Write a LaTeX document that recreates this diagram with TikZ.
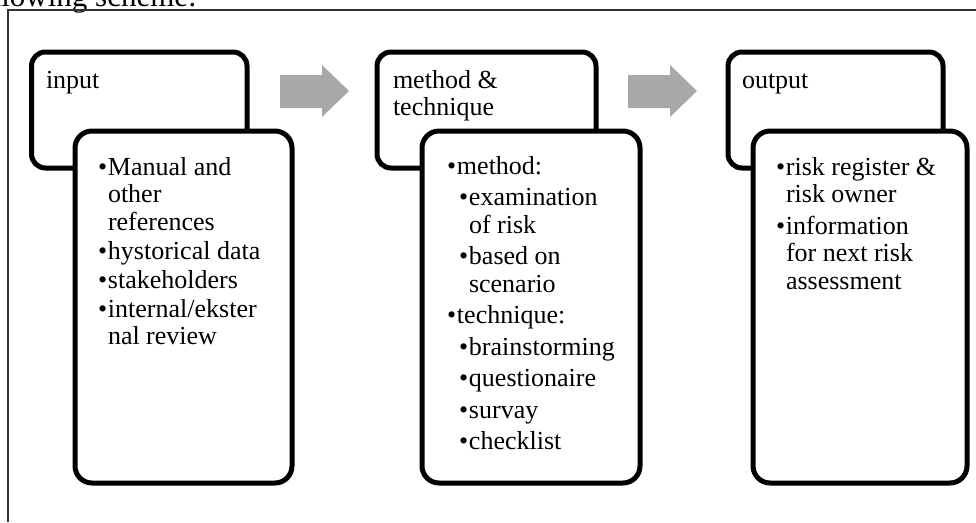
\documentclass[tikz,border=0pt]{standalone}
\usepackage{fontspec}
\setmainfont{Liberation Serif}
\definecolor{arrowgray}{RGB}{168,168,168}
\definecolor{framegray}{RGB}{50,50,50}
\newcommand{\bul}{\makebox[10pt][l]{•}}
\newcommand{\ind}{\hspace*{10pt}}
\newcommand{\subind}{\hspace*{12pt}}
\begin{document}
\begin{tikzpicture}[x=1pt,y=-1pt,
  backbox/.style={draw=black, line width=5pt, fill=white, rounded corners=14pt,
    outer sep=0pt, inner sep=0pt, anchor=north west},
  frontbox/.style={draw=black, line width=5pt, fill=white, rounded corners=17pt,
    outer sep=0pt, inner sep=0pt, anchor=north west},
  blockarrow/.style={fill=arrowgray},
  boxtext/.style={anchor=base west, inner sep=0pt, outer sep=0pt,
    font=\fontsize{26}{27.5}\selectfont},
  framestyle/.style={draw=framegray, line width=1.2pt}
]
\useasboundingbox (0,0) rectangle (976,522);
\fill[white] (0,0) rectangle (976,522);

% cropped caption of the page above the figure
\begin{scope}
  \clip (0,0) rectangle (976,522);
  \node[anchor=base east, inner sep=0pt, font=\fontsize{31}{31}\selectfont] (caption) at (197,6) {following scheme:};
\end{scope}

% frame
\draw[framestyle] (8,522) -- (8,10) -- (976,10);

% back boxes
\node[backbox, minimum width=215.5pt, minimum height=116pt] (in)  at (31.5,52) {};
\node[backbox, minimum width=219pt, minimum height=116pt]   (met) at (377,52) {};
\node[backbox, minimum width=215pt, minimum height=116pt]   (out) at (728,52) {};

% front boxes
\node[frontbox, minimum width=217pt, minimum height=352pt] (inl)  at (75,131) {};
\node[frontbox, minimum width=218pt, minimum height=352pt] (metl) at (422,131) {};
\node[frontbox, minimum width=214pt, minimum height=352pt] (outl) at (753,131) {};

% block arrows
\fill[blockarrow] (280,75) -- (322,75) -- (322,65) -- (349,91) -- (322,117) -- (322,108) -- (280,108) -- cycle;
\fill[blockarrow] (628,75) -- (670,75) -- (670,65) -- (697,91) -- (670,117) -- (670,108) -- (628,108) -- cycle;

% headers
\node[boxtext] (inh) at (46,88) {input};
\node[boxtext] (meth) at (393,88) {\begin{tabular}[t]{@{}l@{}}method \&\\ technique\end{tabular}};
\node[boxtext] (outh) at (742,88) {output};

% lists
\node[boxtext] (inlist) at (98,175) {\begin{tabular}[t]{@{}l@{}}
\bul Manual and\\ \ind other\\ \ind references\\[1.5pt]
\bul hystorical data\\[1.5pt]
\bul stakeholders\\[1.5pt]
\bul internal/ekster\\ \ind nal review
\end{tabular}};

\node[boxtext] (metlist) at (447,174) {\begin{tabular}[t]{@{}l@{}}
\bul method:\\[4pt]
\subind\bul examination\\ \subind\ind of risk\\[4pt]
\subind\bul based on\\ \subind\ind scenario\\[4pt]
\bul technique:\\[4pt]
\subind\bul brainstorming\\[4pt]
\subind\bul questionaire\\[4pt]
\subind\bul survay\\[4pt]
\subind\bul checklist
\end{tabular}};

\node[boxtext] (outlist) at (776,175) {\begin{tabular}[t]{@{}l@{}}
\bul risk register \&\\ \ind risk owner\\[4pt]
\bul information\\ \ind for next risk\\ \ind assessment
\end{tabular}};
\end{tikzpicture}
\end{document}
